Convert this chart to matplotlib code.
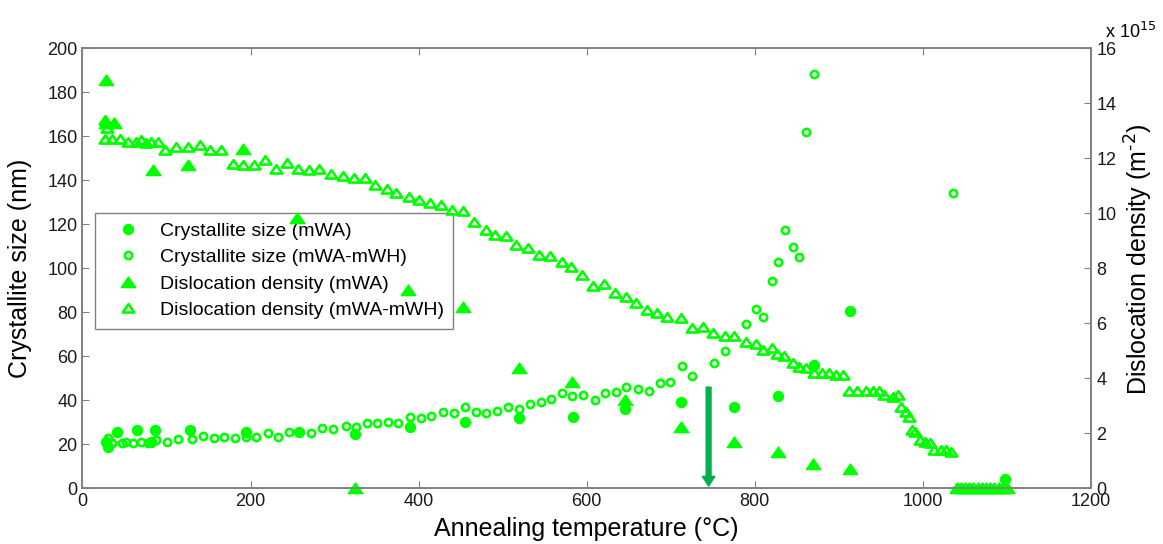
import numpy as np
import matplotlib
matplotlib.use("Agg")
import matplotlib.pyplot as plt
from matplotlib.path import Path

plt.rcParams['font.family'] = ['Liberation Sans', 'DejaVu Sans']

# Crystallite size (mWA), nm
T_size_mwa = [28, 30, 41, 65, 82, 86, 128, 194, 258, 324, 390, 455, 519, 584, 646,
              712, 775, 827, 870, 913, 1098]
size_mwa = [21.2, 18.9, 25.7, 26.5, 21.2, 26.5, 26.5, 25.7, 25.5, 24.7, 27.7, 30.0, 31.8,
            32.3, 35.9, 39.1, 37.1, 42.0, 56.0, 80.6, 4.1]

# Crystallite size (mWA-mWH), nm
T_size_mwh = [30, 35, 47, 52, 60, 70, 78, 88, 100, 114, 130, 143, 156, 168, 181, 194, 207,
              221, 233, 246, 272, 285, 298, 313, 325, 338, 350, 363, 376, 390, 403, 415,
              429, 442, 455, 468, 480, 493, 506, 520, 532, 546, 558, 571, 583, 596, 610,
              622, 635, 647, 661, 674, 687, 699, 713, 725, 752, 764, 790, 801, 810, 820,
              827, 836, 845, 853, 861, 871, 1036]
size_mwh = [22.8, 20.4, 20.4, 21.2, 20.7, 21.2, 20.7, 21.9, 21.2, 22.3, 22.3, 23.8, 22.7,
            23.2, 22.7, 23.5, 23.2, 25.0, 23.2, 25.7, 25.0, 27.3, 26.8, 28.3, 28.0, 29.5,
            29.8, 30.3, 29.5, 32.5, 32.1, 32.9, 34.8, 34.4, 37.1, 34.8, 34.4, 35.3, 37.1,
            35.9, 38.2, 39.4, 40.6, 43.5, 42.0, 42.4, 40.1, 43.2, 43.9, 46.2, 45.0, 44.4,
            48.0, 48.5, 55.7, 51.2, 57.1, 62.4, 74.5, 81.5, 77.7, 94.2, 102.7, 117.5,
            109.5, 105.0, 162.0, 188.2, 134.4]

# Dislocation density (mWA), x 1e15 m^-2
T_dd_mwa = [28, 28, 38, 84, 125, 191, 255, 324, 387, 453, 519, 583, 646, 712, 775, 827,
            869, 913, 1040, 1045, 1050, 1055, 1060, 1065, 1070, 1075, 1080, 1085, 1090,
            1095, 1100]
dd_mwa = [14.85, 13.3, 13.3, 11.57, 11.76, 12.33, 9.82, 0.0, 7.21, 6.6, 4.36, 3.88, 3.21,
          2.24, 1.69, 1.33, 0.88, 0.70, 0, 0, 0, 0, 0, 0, 0, 0, 0, 0, 0, 0, 0]

# Dislocation density (mWA-mWH), x 1e15 m^-2
T_dd_mwh = [27, 29, 27, 37, 35, 45, 54, 64, 70, 76, 82, 90, 98, 111, 125, 140, 152, 165,
            179, 191, 204, 217, 230, 243, 257, 270, 282, 296, 310, 323, 336, 348, 362,
            373, 388, 401, 414, 427, 440, 453, 466, 480, 491, 504, 516, 530, 543, 556,
            570, 581, 594, 608, 621, 634, 647, 659, 672, 684, 696, 712, 725, 738, 750,
            764, 775, 789, 801, 810, 820, 826, 835, 845, 853, 861, 871, 880, 888, 896,
            905, 912, 922, 932, 941, 948, 954, 964, 970, 974, 980, 983, 987, 991, 997,
            1003, 1009, 1013, 1021, 1027, 1033, 1040, 1045, 1050, 1055, 1060, 1065, 1070,
            1075, 1080, 1085, 1090, 1095, 1100]
dd_mwh = [13.4, 13.1, 12.7, 13.3, 12.7, 12.7, 12.6, 12.6, 12.67, 12.55, 12.6, 12.6, 12.3,
          12.4, 12.4, 12.48, 12.3, 12.3, 11.8, 11.76, 11.76, 11.96, 11.6, 11.84, 11.6,
          11.57, 11.6, 11.43, 11.36, 11.27, 11.27, 11.03, 10.9, 10.73, 10.6, 10.48, 10.39,
          10.3, 10.12, 10.1, 9.69, 9.39, 9.21, 9.17, 8.85, 8.73, 8.48, 8.45, 8.24, 8.06,
          7.76, 7.36, 7.43, 7.09, 6.97, 6.73, 6.48, 6.39, 6.24, 6.18, 5.82, 5.85, 5.64,
          5.54, 5.54, 5.33, 5.25, 5.03, 5.09, 4.88, 4.81, 4.55, 4.4, 4.36, 4.2, 4.2, 4.2,
          4.12, 4.12, 3.55, 3.55, 3.55, 3.55, 3.55, 3.39, 3.33, 3.39, 2.97, 2.79, 2.6,
          2.12, 2.06, 1.76, 1.69, 1.64, 1.39, 1.39, 1.39, 1.33, 0, 0, 0, 0, 0, 0, 0, 0, 0,
          0, 0, 0, 0]

# arrow marking the temperature of interest
arrow_T = 745
arrow_top = 46
arrow_bottom = 1

green = '#00FF00'
grey = '#808080'

# wide MATLAB-like triangle
tri = Path([(-1, -0.7), (1, -0.7), (0, 0.75), (-1, -0.7)],
           [Path.MOVETO, Path.LINETO, Path.LINETO, Path.CLOSEPOLY])

fig = plt.figure(figsize=(11.63, 5.44), dpi=100)
ax = fig.add_axes([0.0709, 0.1024, 0.8672, 0.8085])
ax2 = ax.twinx()

h1, = ax.plot(T_size_mwa, size_mwa, 'o', color=green, ms=7.2, mec=green, ls='none',
              clip_on=False, label='Crystallite size (mWA)')
h2, = ax.plot(T_size_mwh, size_mwh, 'o', mfc='none', mec=green, ms=5.2, mew=1.9,
              ls='none', clip_on=False, label='Crystallite size (mWA-mWH)')
h3, = ax2.plot(T_dd_mwa, dd_mwa, marker=tri, color=green, mec=green, ms=10.5, ls='none',
               clip_on=False, label='Dislocation density (mWA)')
h4, = ax2.plot(T_dd_mwh, dd_mwh, marker=tri, mfc='none', mec=green, ms=8.3, mew=1.9,
               ls='none', clip_on=False, label='Dislocation density (mWA-mWH)')

ax.annotate('', xy=(arrow_T, arrow_bottom), xytext=(arrow_T, arrow_top),
            arrowprops=dict(facecolor='#00B050', edgecolor='#00B050', width=3.5,
                            headwidth=9, headlength=7))

ax.set_xlim(0, 1200)
ax.set_ylim(0, 200)
ax2.set_ylim(0, 16)
ax.set_xticks(np.arange(0, 1201, 200))
ax.set_yticks(np.arange(0, 201, 20))
ax2.set_yticks(np.arange(0, 17, 2))

for a in (ax, ax2):
    for s in a.spines.values():
        s.set_color(grey)
        s.set_linewidth(1.2)
ax.tick_params(direction='in', length=5, color=grey, labelsize=13, top=True,
               labelcolor='#1a1a1a')
ax2.tick_params(direction='in', length=5, color=grey, labelsize=13, pad=4,
                labelcolor='#1a1a1a')

ax.set_xlabel('Annealing temperature (°C)', fontsize=18)
ax.set_ylabel('Crystallite size (nm)', fontsize=18)
ax2.set_ylabel(r'Dislocation density (m$^{\text{-}2}$)', fontsize=18)
ax.xaxis.set_label_coords(0.5, -0.066)
ax.yaxis.set_label_coords(-0.05, 0.5)
ax2.yaxis.set_label_coords(1.032, 0.52)
ax2.text(1.0139, 1.024, 'x 10$^{15}$', transform=ax2.transAxes, fontsize=13,
         va='baseline', ha='left')

leg = ax.legend(handles=[h1, h2, h3, h4], loc='upper left',
                bbox_to_anchor=(0.012, 0.627), fontsize=14, frameon=True,
                fancybox=False, framealpha=1, edgecolor=grey, handletextpad=0.45,
                borderpad=0.5, labelspacing=0.45, handlelength=2.4, borderaxespad=0)
leg.get_frame().set_linewidth(1.0)

plt.savefig('out.png', dpi=100)
